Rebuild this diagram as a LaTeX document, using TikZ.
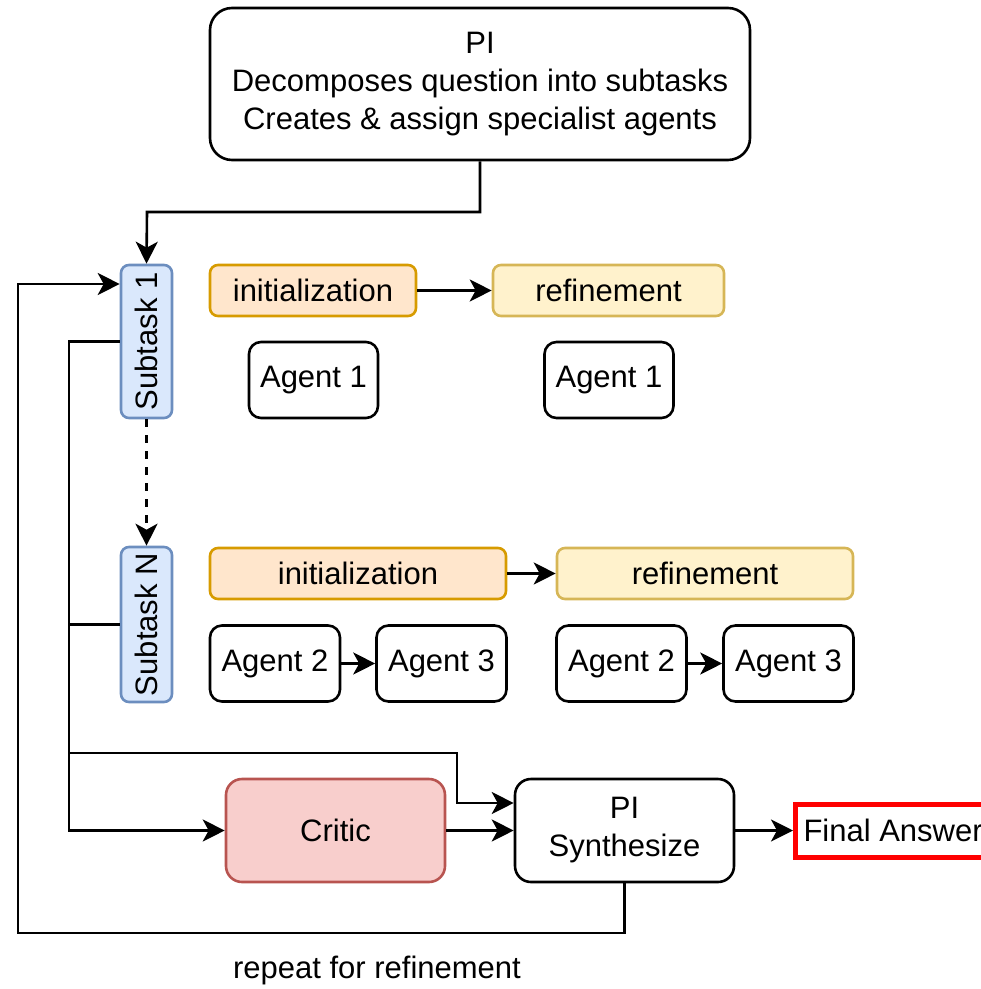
\documentclass[tikz,border=0pt]{standalone}
\usepackage{fontspec}
\setmainfont{Liberation Sans}
\usetikzlibrary{arrows.meta}
\definecolor{bfill}{HTML}{DAE8FC}\definecolor{bline}{HTML}{6C8EBF}
\definecolor{ifill}{HTML}{FFE6CC}\definecolor{iline}{HTML}{D79B00}
\definecolor{rfill}{HTML}{FFF2CC}\definecolor{rline}{HTML}{D6B656}
\definecolor{cfill}{HTML}{F8CECC}\definecolor{cline}{HTML}{B85450}
\definecolor{fred}{HTML}{FF0000}
\begin{document}
\begin{tikzpicture}[x=0.5pt,y=-0.5pt,
  font=\fontsize{15.5}{19}\selectfont,
  every node/.style={inner sep=0pt},
  box/.style={draw, line width=1.3pt, rounded corners=#1, align=center},
  box/.default=6pt,
  sub/.style={box=4pt, draw=bline, fill=bfill, minimum width=25.5pt},
  initbox/.style={box=4pt, draw=iline, fill=ifill, minimum height=25.5pt},
  refbox/.style={box=4pt, draw=rline, fill=rfill, minimum height=25.5pt},
  agent/.style={box=6pt, minimum height=38pt},
  conn/.style={line width=1.3pt},
  arr/.style={conn, -{Stealth[length=11pt, width=11pt, inset=3pt]}}]
\useasboundingbox (0,0) rectangle (980,989);

\node[box=11pt, minimum width=270pt, minimum height=76pt] (top) at (480,84)
  {PI\\Decomposes question into subtasks\\Creates \& assign specialist agents};

\node[sub, minimum height=76.5pt] (sub1) at (146.5,341.5) {\rotatebox{90}{Subtask 1}};
\node[sub, minimum height=77.5pt] (subN) at (146.5,624.5) {\rotatebox{90}{Subtask N}};

\node[initbox, minimum width=103pt] (init1) at (313,290.5) {initialization};
\node[refbox, minimum width=115.5pt] (ref1) at (608.5,290.5) {refinement};
\node[agent, minimum width=64.5pt] (ag1a) at (313.5,380) {Agent 1};
\node[agent, minimum width=64.5pt] (ag1b) at (609,380) {Agent 1};

\node[initbox, minimum width=148pt] (initN) at (358,573.5) {initialization};
\node[refbox, minimum width=148pt] (refN) at (705,573.5) {refinement};
\node[agent, minimum width=65pt] (ag2a) at (275,663.5) {Agent 2};
\node[agent, minimum width=65pt] (ag3a) at (441.5,663.5) {Agent 3};
\node[agent, minimum width=65pt] (ag2b) at (621.5,663.5) {Agent 2};
\node[agent, minimum width=65pt] (ag3b) at (788.5,663.5) {Agent 3};

\node[box=8pt, draw=cline, fill=cfill, minimum width=109.5pt, minimum height=51.5pt] (critic) at (335.5,830.5) {Critic};
\node[box=8pt, minimum width=109.5pt, minimum height=51.5pt] (synth) at (624.5,830.5) {PI\\Synthesize};
\node[draw=fred, line width=2.5pt, anchor=west, inner xsep=4pt,
  minimum height=26.5pt] (final) at (793,830.5) {\makebox[86pt][l]{Final Answer}};

\node (rep) at (377,970) {repeat for refinement};

% connectors
\coordinate (j1) at (147,212);
\draw[arr] (top.south) |- (j1) -- (sub1.north);
\draw[arr, dash pattern=on 4pt off 4pt] (sub1.south) -- (subN.north);
\draw[arr] (init1) -- (ref1);
\draw[arr] (initN) -- (refN);
\draw[arr] (ag2a) -- (ag3a);
\draw[arr] (ag2b) -- (ag3b);

\coordinate (busTop) at (69,341.5);
\coordinate (busMid) at (69,753);
\coordinate (k) at (457,753);
\draw[arr] (sub1.west) -- (busTop) |- (critic.west);
\draw[conn] (subN.west) -- (subN.west -| busTop);
\draw[arr] (busMid) -- (k) |- ([yshift=13.75pt]synth.west);
\draw[arr] (critic) -- (synth);
\draw[arr] (synth) -- (final);

\coordinate (f2) at (18,933);
\draw[arr] (synth.south) |- (f2) |- ([yshift=28.75pt]sub1.west);
\end{tikzpicture}
\end{document}
